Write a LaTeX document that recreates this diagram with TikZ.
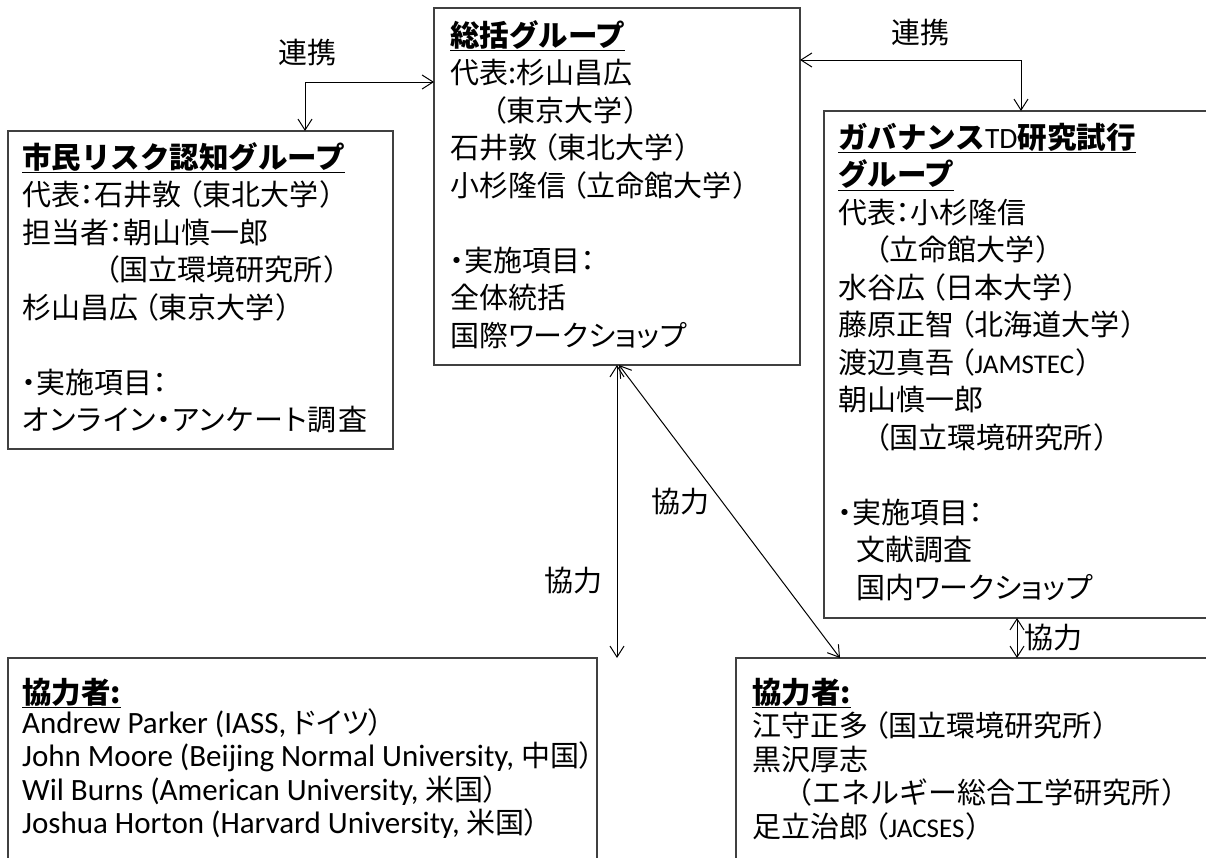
\documentclass[tikz,border=0pt]{standalone}
\usepackage{fontspec}
\setmainfont{Carlito}
\newfontfamily\jp[RawFeature=+palt]{Noto Sans CJK JP}
\newfontfamily\jpf{Noto Sans CJK JP}
\usetikzlibrary{arrows.meta}
\definecolor{boxline}{HTML}{404040}
\newcommand\ind[1]{\hspace*{#1pt}}
\newcommand\lp{\hspace{6pt}（}
\newcommand\rp{\hspace{2pt}）}
\newcommand\ttl[1]{{\jpf\fontsize{29.5}{35}\selectfont\bfseries\underline{#1}}}
\newcommand\lat[1]{{\rmfamily\fontsize{27}{30}\selectfont #1}}
\tikzset{
  box/.style={draw=boxline, line width=1.5pt, rectangle, inner sep=0pt, outer sep=0pt, anchor=north west, fill=white},
  txt/.style={anchor=base west, inner sep=0pt, font=\jp\fontsize{29}{35}\selectfont},
  entxt/.style={anchor=base west, inner sep=0pt, font=\fontsize{31}{35}\selectfont},
  lab/.style={inner sep=0pt, font=\jp\fontsize{29}{35}\selectfont},
  arr/.style={line width=1pt, {Straight Barb[length=11pt,width=14pt]}-{Straight Barb[length=11pt,width=14pt]}}
}
\begin{document}
\begin{tikzpicture}[x=1pt, y=-1pt]
\useasboundingbox (0,0) rectangle (1206,857);
\clip (0,0) rectangle (1206,857);
% boxes
\node[box, minimum width=366pt, minimum height=357pt] (C) at (434,8) {};
\node[box, minimum width=385pt, minimum height=318pt] (L) at (8,131) {};
\node[box, minimum width=400pt, minimum height=507pt] (R) at (824,111) {};
\node[box, minimum width=589pt, minimum height=220pt] (BL) at (8,658) {};
\node[box, minimum width=480pt, minimum height=220pt] (BR) at (736,658) {};
% center text
\foreach \t [count=\i] in {
  {\ttl{総括グループ}},
  {代表:杉山昌広},
  {\ind{42}（東京大学\rp},
  {石井敦\lp 東北大学\rp},
  {小杉隆信\lp 立命館大学\rp},
  {},
  {・実施項目：},
  {全体統括},
  {国際ワークショップ}}
  \node[txt] (C\i) at (450, 46+37.5*\i-37.5) {\t};
% left text
\foreach \t [count=\i] in {
  {\ttl{市民リスク認知グループ}},
  {代表：石井敦\lp 東北大学\rp},
  {担当者：朝山慎一郎},
  {\ind{83}（国立環境研究所\rp},
  {杉山昌広\lp 東京大学\rp},
  {},
  {・実施項目：},
  {\addfontfeature{LetterSpace=4}オンライン・アンケート調査}}
  \node[txt] (L\i) at (22, 168+37.5*\i-37.5) {\t};
% right text
\foreach \t [count=\i] in {
  {\ttl{ガバナンス{\rmfamily\mdseries TD}研究試行}},
  {\ttl{グループ}},
  {代表：小杉隆信},
  {\ind{37}（立命館大学\rp},
  {水谷広\lp 日本大学\rp},
  {藤原正智\lp 北海道大学\rp},
  {渡辺真吾\lp\lat{JAMSTEC}\rp},
  {朝山慎一郎},
  {\ind{37}（国立環境研究所\rp},
  {},
  {・実施項目：},
  {\ind{18}文献調査},
  {\ind{18}国内ワークショップ}}
  \node[txt] (R\i) at (838, 148+37.5*\i-37.5) {\t};
% bottom left text
\node[txt] (BL1) at (22,703) {\ttl{協力者:}};
\foreach \t [count=\i from 2] in {
  {Andrew Parker (IASS, {\jp\fontsize{29}{35}\selectfont ドイツ）}},
  {John Moore (Beijing Normal University, {\jp\fontsize{29}{35}\selectfont 中国）}},
  {Wil Burns (American University, {\jp\fontsize{29}{35}\selectfont 米国）}},
  {Joshua Horton (Harvard University, {\jp\fontsize{29}{35}\selectfont 米国）}}}
  \node[entxt] (BL\i) at (22, 733+33.5*\i-67) {\t};
% bottom right text
\foreach \t [count=\i] in {
  {\ttl{協力者:}},
  {江守正多\lp 国立環境研究所\rp},
  {黒沢厚志},
  {\ind{31}{\jpf （エネルギー}総合工学研究所\rp},
  {足立治郎\lp\lat{JACSES}\rp}}
  \node[txt] (BR\i) at (752, 703+33.5*\i-33.5) {\t};
% connectors
\draw[arr] ([yshift=-74pt]C.north west) -| ([xshift=297pt]L.north west);
\draw[arr] ([yshift=-52pt]C.north east) -| ([xshift=197pt]R.north west);
\draw[arr] ([xshift=183pt]C.south west) -- ([xshift=183pt]C.south west |- BL.north);
\draw[arr] ([xshift=185pt]C.south west) -- ([xshift=104pt]BR.north west);
\draw[arr] ([xshift=193pt]R.south west) -- ([xshift=193pt]R.south west |- BR.north);
% labels
\node[lab] (k1) at (307,53) {連携};
\node[lab] (k2) at (920,33) {連携};
\node[lab] (k3) at (680,502) {協力};
\node[lab] (k4) at (573,581) {協力};
\node[lab] (k5) at (1053,638) {協力};
\end{tikzpicture}
\end{document}
